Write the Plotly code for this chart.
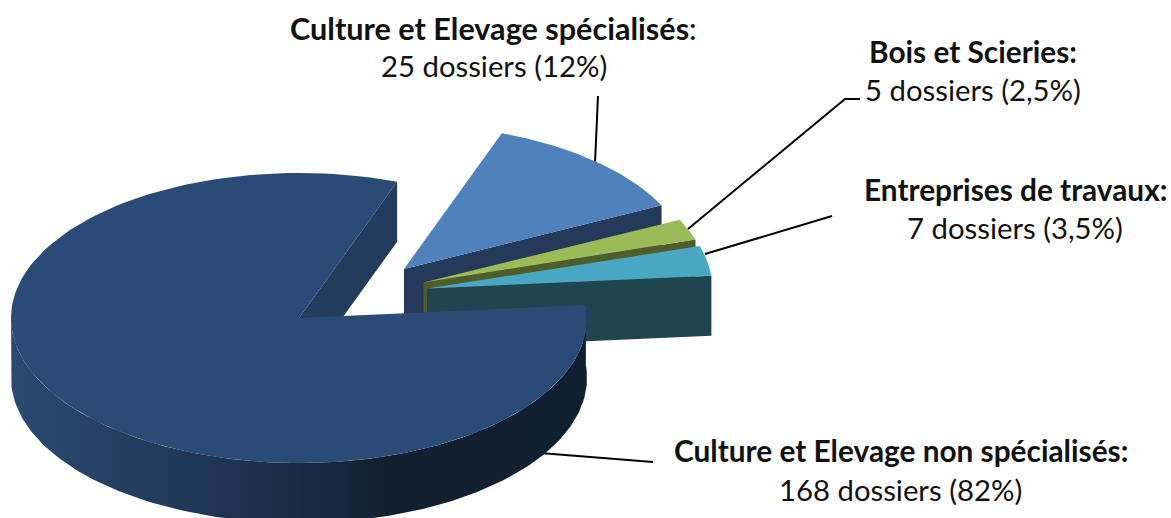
import numpy as np
import plotly.graph_objects as go

categories = ["Culture et Elevage non spécialisés", "Culture et Elevage spécialisés",
              "Bois et Scieries", "Entreprises de travaux"]
dossiers = [168, 25, 5, 7]
value_labels = ["168 dossiers (82%)", "25 dossiers (12%)", "5 dossiers (2,5%)", "7 dossiers (3,5%)"]
title_suffix = [":", "", ":", ":"]
top_colors = ["#2a4b75", "#4f81bd", "#9bbb59", "#48a8c3"]
wall_colors = ["#233c5c", "#243a5a", "#4f5d28", "#1f4650"]

# Projection of the tilted, exploded pie onto the page (pixel-sized axes)
RX, RY, DEPTH = 288, 145, 60
START = 5.1
centers = [(299, 318), (404, 269), (423.5, 282.5), (427, 288.5)]
radii = [288, 287, 285, 285.5]

sweeps = [v / sum(dossiers) * 360 for v in dossiers]
a1 = START
spans = []
for s in sweeps:
    spans.append((a1, a1 - s))   # clockwise on screen
    a1 -= s


def arc(c, rx, a, b, dy=0, n=160):
    t = np.radians(np.linspace(a, b, n))
    return c[0] + rx * np.cos(t), c[1] - RY * rx / RX * np.sin(t) + dy


def wedge(c, rx, a, b):
    x, y = arc(c, rx, a, b)
    return np.r_[c[0], x, c[0]], np.r_[c[1], y, c[1]]


def radial_wall(c, rx, a):
    x, y = arc(c, rx, a, a, n=1)
    return [c[0], x[0], x[0], c[0], c[0]], [c[1], y[0], y[0] + DEPTH, c[1] + DEPTH, c[1]]


def poly(x, y, color, name=None):
    return go.Scatter(x=list(x), y=list(y), mode="lines", fill="toself", fillcolor=color,
                      line=dict(width=0, color=color), hoverinfo="skip", showlegend=False)


fig = go.Figure()

# leader lines (behind the pie)
leaders = [([653, 540], [462, 453]), ([598, 595], [96, 163]),
           ([860, 845, 688], [99, 99, 229]), ([832, 705], [216, 254])]
for lx, ly in leaders:
    fig.add_trace(go.Scatter(x=lx, y=ly, mode="lines", line=dict(color="black", width=2),
                             hoverinfo="skip", showlegend=False))

# main slice: radial wall at its closing edge
fig.add_trace(poly(*radial_wall(centers[0], radii[0], spans[0][1]), wall_colors[0]))

# exploded slices, back to front
for i in [1, 2, 3]:
    a, b = spans[i]
    fig.add_trace(poly(*radial_wall(centers[i], radii[i], b), wall_colors[i]))
    fig.add_trace(poly(*wedge(centers[i], radii[i], a, b), top_colors[i]))

# main slice: outer wall with a horizontal shading, then its top
xt, yt = arc(centers[0], radii[0], spans[0][0], -180)
fig.add_trace(go.Scatter(
    x=np.r_[xt, xt[::-1]], y=np.r_[yt, yt[::-1] + DEPTH], mode="lines", fill="toself",
    line=dict(width=0), hoverinfo="skip", showlegend=False,
    fillgradient=dict(type="horizontal", colorscale=[
        [0, "#2a4a72"], [0.2, "#243e60"], [0.45, "#1b2f4b"], [0.66, "#121f30"], [1, "#11202f"]])))
fig.add_trace(poly(*wedge(centers[0], radii[0], *spans[0]), top_colors[0]))

# labels: (x centre, head line y, value line y, head font size)
label_pos = [(900.5, 450.5, 489, 29.8), (493.5, 28.5, 65.5, 30.6),
             (973, 51.5, 89.5, 29.8), (1015, 189.5, 227, 29.8)]
for cat, suf, val, (x, y1, y2, hs) in zip(categories, title_suffix, value_labels, label_pos):
    head = f"<b>{cat}</b>:" if cat == categories[1] else f"<b>{cat}{suf}</b>"
    fig.add_annotation(x=x, y=y1, text=head, showarrow=False, xanchor="center", yanchor="middle",
                       font=dict(family="Lato", size=hs, color="#111111"))
    fig.add_annotation(x=x, y=y2, text=val, showarrow=False, xanchor="center", yanchor="middle",
                       font=dict(family="Lato", size=29.3, color="#111111"))

fig.update_layout(
    width=1171, height=518, margin=dict(l=0, r=0, t=0, b=0), showlegend=False,
    paper_bgcolor="white", plot_bgcolor="white",
    xaxis=dict(range=[0, 1171], visible=False, fixedrange=True),
    yaxis=dict(range=[518, 0], visible=False, fixedrange=True),
)
fig.write_html("out.html", config={"displayModeBar": False},
               post_script="document.body.style.margin='0';")
